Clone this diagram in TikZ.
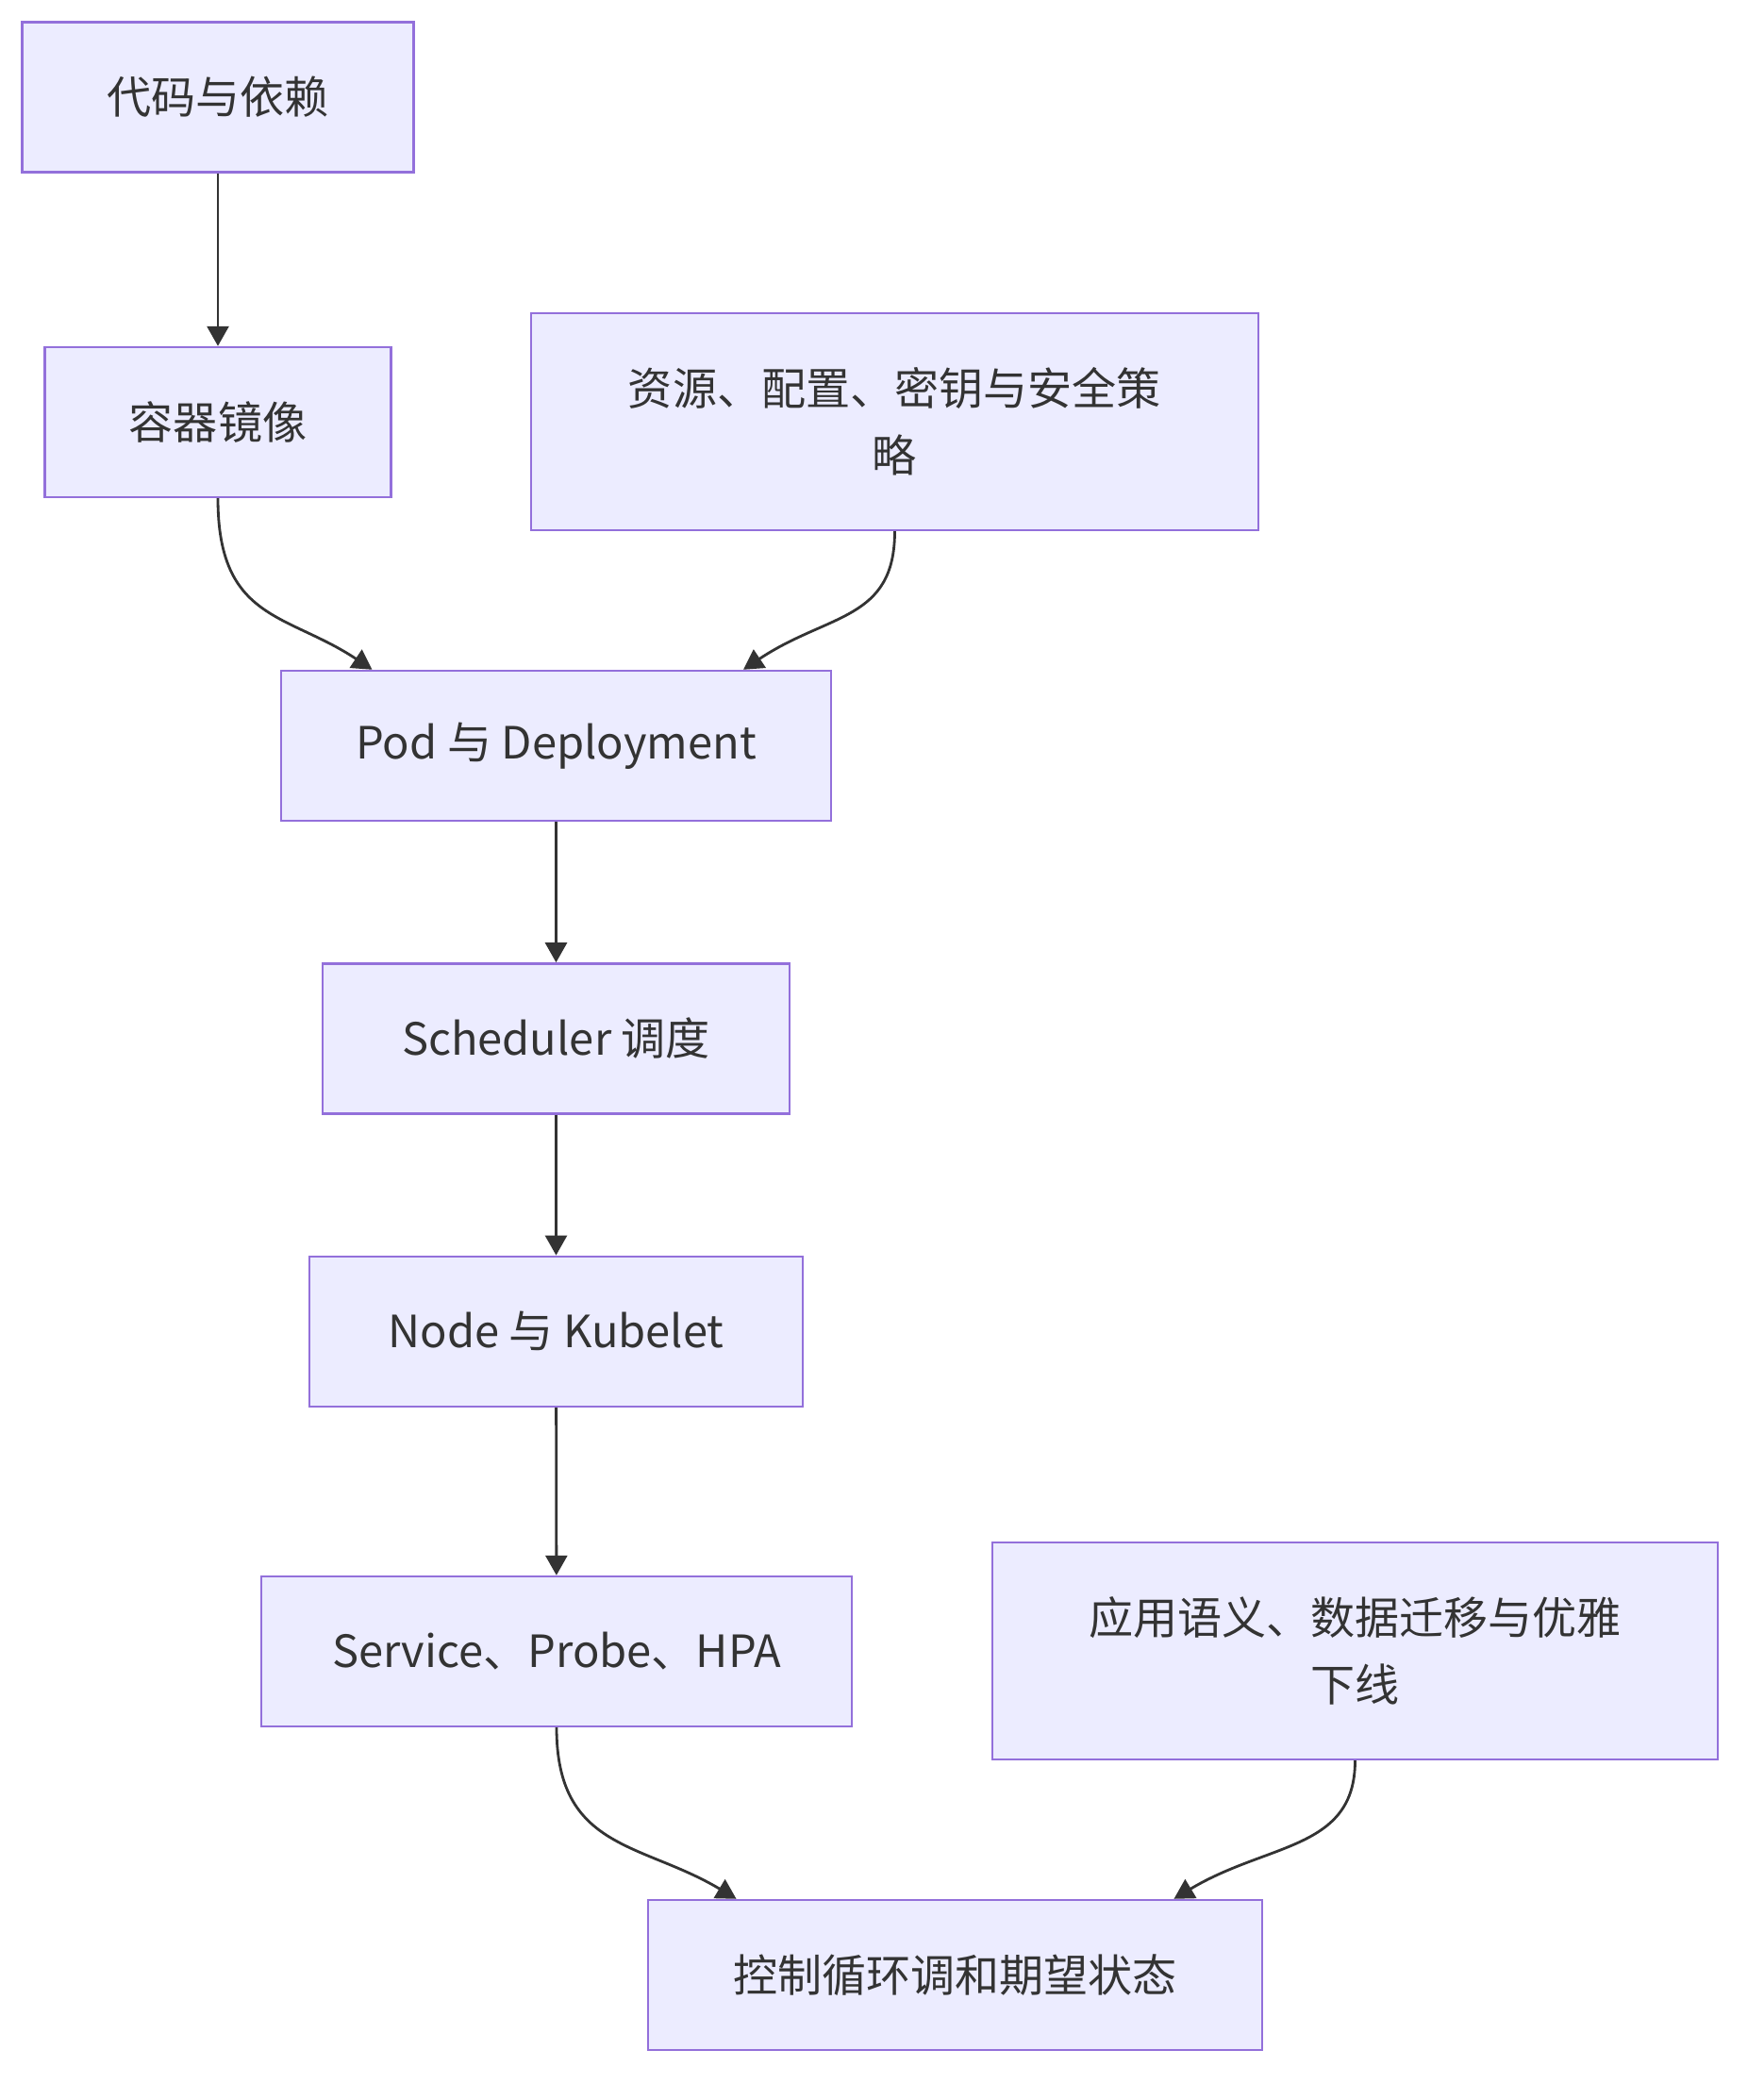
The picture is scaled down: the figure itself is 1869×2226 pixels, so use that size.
\documentclass[tikz,border=0pt]{standalone}
\usepackage{fontspec}
\setmainfont{Noto Sans CJK SC}
\usepackage{tikz}
\usetikzlibrary{arrows.meta,positioning}
\definecolor{boxfill}{HTML}{ECECFF}
\definecolor{boxline}{HTML}{9370DB}
\definecolor{ink}{HTML}{333333}
\tikzset{
  flow/.style={x=0.02cm, y=-0.02cm, >={Triangle[length=0.42cm, width=0.46cm]},
               every node/.style={draw=boxline, line width=1.4pt, fill=boxfill, text=ink, align=center,
               font=\fontsize{26.8}{40.3}\selectfont, inner sep=0pt, minimum height=3.18cm}},
  tall/.style={minimum height=4.6cm},
  link/.style={->, draw=ink, line width=1.6pt}
}

\begin{document}
\begin{tikzpicture}[flow]
\useasboundingbox (0,0) rectangle (1869,2226);
\node[minimum width=8.3cm] (code) at (231,103) {代码与依赖};
\node[minimum width=7.34cm] (img) at (231,447.5) {容器镜像};
\node[tall, minimum width=15.42cm] (res) at (948.5,447) {资源、配置、密钥与安全策\\略};
\node[minimum width=11.66cm] (pod) at (589.5,790.5) {Pod 与 Deployment};
\node[minimum width=9.9cm, below=2.98cm of pod] (sched) {Scheduler 调度};
\node[minimum width=10.46cm, below=2.98cm of sched] (kube) {Node 与 Kubelet};
\node[minimum width=12.52cm] (svc) at (590,1750.5) {Service、Probe、HPA};
\node[tall, minimum width=15.38cm] (app) at (1436.5,1750) {应用语义、数据迁移与优雅\\下线};
\node[minimum width=13.02cm] (loop) at (1012.5,2093.5) {控制循环调和期望状态};
% edges
\draw[link] (code) -- (img);
\draw[link] (img.south) .. controls +(0,130) and +(-90,-60) .. ([xshift=-3.9cm]pod.north);
\draw[link] (res.south) .. controls +(0,95) and +(90,-60) .. ([xshift=3.97cm]pod.north);
\draw[link] (pod) -- (sched);
\draw[link] (sched) -- (kube);
\draw[link] (kube) -- (svc);
\draw[link] (svc.south) .. controls +(0,130) and +(-100,-60) .. ([xshift=-4.64cm]loop.north);
\draw[link] (app.south) .. controls +(0,95) and +(100,-60) .. ([xshift=4.64cm]loop.north);
\end{tikzpicture}
\end{document}
